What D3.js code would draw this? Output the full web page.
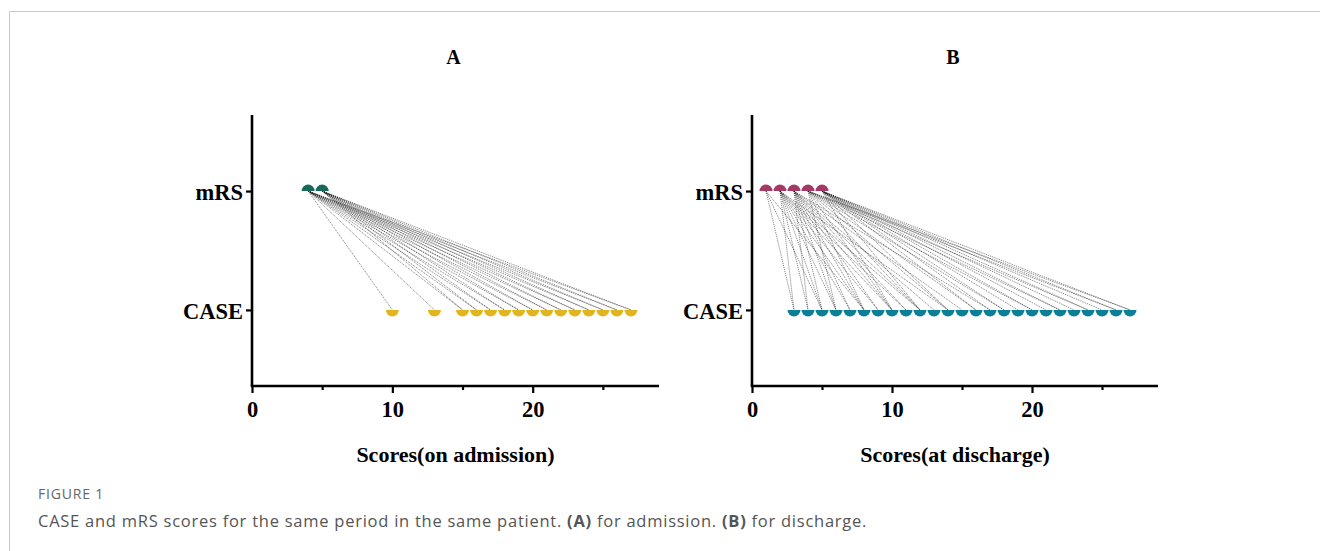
<!DOCTYPE html>
<html><head><meta charset="utf-8">
<script src="https://cdn.jsdelivr.net/npm/d3@7"></script>
<style>body{margin:0;background:#fff}svg{display:block}</style>
</head><body>
<script>
const categories = ["mRS", "CASE"];
const xTicks = [0, 10, 20];
const xMinorTicks = [5, 15, 25];
const panelTitles = ["A", "B"];
const axisTitles = ["Scores(on admission)", "Scores(at discharge)"];
// patient pairs (mRS score, CASE score)
const admissionMRS =  [4,4,4,4,4,4,4,4,4,4,4,4,4,4,4, 5,5,5,5,5,5,5,5,5,5,5,5,5];
const admissionCASE = [10,13,15,16,17,18,19,20,21,22,23,24,25,26,27, 15,16,17,18,19,20,21,22,23,24,25,26,27];
const dischargeMRS =  [1,1,1, 2,2,2,2,2,2,2,2,2,2,2, 3,3,3,3,3,3,3,3,3,3,3,3, 4,4,4,4,4,4,4,4,4,4,4,4, 5,5,5,5,5,5,5,5,5,5,5,5,5,5,5];
const dischargeCASE = [3,5,8, 3,4,5,6,7,8,9,10,11,12,14, 4,5,6,7,8,9,10,11,12,13,15,17, 6,8,10,12,14,16,18,20,22,24,26,27, 10,12,14,16,17,18,19,20,21,22,23,24,25,26,27];
const colorsMRS = ["#17695a", "#a33a66"];
const colorsCASE = ["#e1b520", "#0b7f95"];

const W = 1320, H = 551;
const svg = d3.select("body").append("svg").attr("width", W).attr("height", H);

// frame
svg.append("path").attr("d", `M9.5,${H} V11.5 H${W}`).attr("fill","none").attr("stroke","#c8c8c8").attr("stroke-width",1);

const panels = [
  {x0: 252, x1: 659, mrs: admissionMRS, cs: admissionCASE},
  {x0: 752, x1: 1158, mrs: dischargeMRS, cs: dischargeCASE}
];
const serif = "'Liberation Serif','Times New Roman',serif";
const yTop = 115, yBot = 386;

panels.forEach((p, i) => {
  const x = d3.scaleLinear().domain([0, 29]).range([p.x0, p.x1]);
  const y = d3.scalePoint().domain(categories).range([yTop, yBot]).padding(0.64);
  const g = svg.append("g");

  // connecting lines
  const pairs = p.mrs.map((m, k) => ({m, c: p.cs[k]}));
  g.append("g").selectAll("line").data(pairs).join("line")
    .attr("x1", d => x(d.m)).attr("y1", y("mRS"))
    .attr("x2", d => x(d.c)).attr("y2", y("CASE"))
    .attr("stroke", "#111").attr("stroke-opacity", 0.7)
    .attr("stroke-width", 0.8).attr("stroke-dasharray", "1,1");

  const r = 6.5;
  const top = d3.arc().innerRadius(0).outerRadius(r).startAngle(-Math.PI/2).endAngle(Math.PI/2);
  const bottom = d3.arc().innerRadius(0).outerRadius(r).startAngle(Math.PI/2).endAngle(3*Math.PI/2);
  const mrsVals = Array.from(new Set(p.mrs)).sort(d3.ascending);
  const csVals = Array.from(new Set(p.cs)).sort(d3.ascending);
  g.append("g").selectAll("path").data(mrsVals).join("path")
    .attr("transform", d => `translate(${x(d)},${y("mRS")})`)
    .attr("d", top()).attr("fill", colorsMRS[i]);
  g.append("g").selectAll("path").data(csVals).join("path")
    .attr("transform", d => `translate(${x(d)},${y("CASE")})`)
    .attr("d", bottom()).attr("fill", colorsCASE[i]);

  // axes
  const xAxis = g.append("g").attr("transform", `translate(0,${yBot})`)
    .call(d3.axisBottom(x).tickValues(xTicks).tickSize(7).tickSizeOuter(0).tickPadding(8));
  g.append("g").attr("transform", `translate(0,${yBot})`)
    .call(d3.axisBottom(x).tickValues(xMinorTicks).tickSize(4).tickSizeOuter(0).tickFormat(""))
    .select(".domain").remove();
  const yAxis = g.append("g").attr("transform", `translate(${p.x0},0)`)
    .call(d3.axisLeft(y).tickSize(6).tickSizeOuter(0).tickPadding(3));
  yAxis.select(".domain").attr("d", `M0,${yTop}V${yBot}`);
  [xAxis, yAxis].forEach(a => {
    a.select(".domain").attr("stroke", "#000").attr("stroke-width", 2.6);
    a.selectAll(".tick text").attr("font-family", serif).attr("font-weight", "bold").attr("font-size", 22.5).attr("fill", "#000");
  });
  yAxis.selectAll(".tick text").attr("dy", "0.36em");
  g.selectAll(".tick line").attr("stroke", "#000").attr("stroke-width", 2.2);
  xAxis.select(".domain").attr("d", `M${p.x0 - 1.3},0H${p.x1}`);

  // titles
  g.append("text").attr("x", (p.x0 + p.x1) / 2 - 2).attr("y", 64).attr("text-anchor", "middle")
    .attr("font-family", serif).attr("font-weight", "bold").attr("font-size", 20).text(panelTitles[i]);
  g.append("text").attr("x", (p.x0 + p.x1) / 2).attr("y", 462).attr("text-anchor", "middle")
    .attr("font-family", serif).attr("font-weight", "bold").attr("font-size", 22).text(axisTitles[i]);
});

// caption
const sans = "'Open Sans','Noto Sans',sans-serif";
svg.append("text").attr("x", 38).attr("y", 499).attr("font-family", sans).attr("font-size", 14)
  .attr("letter-spacing", 0.8).attr("fill", "#666").text("FIGURE 1");
const cap = svg.append("text").attr("x", 38).attr("y", 527).attr("font-family", sans).attr("font-size", 16.5)
  .attr("letter-spacing", 0.75).attr("fill", "#555");
cap.append("tspan").text("CASE and mRS scores for the same period in the same patient. ");
cap.append("tspan").attr("font-weight", "bold").text("(A)");
cap.append("tspan").text(" for admission. ");
cap.append("tspan").attr("font-weight", "bold").text("(B)");
cap.append("tspan").text(" for discharge.");
</script>
</body></html>
